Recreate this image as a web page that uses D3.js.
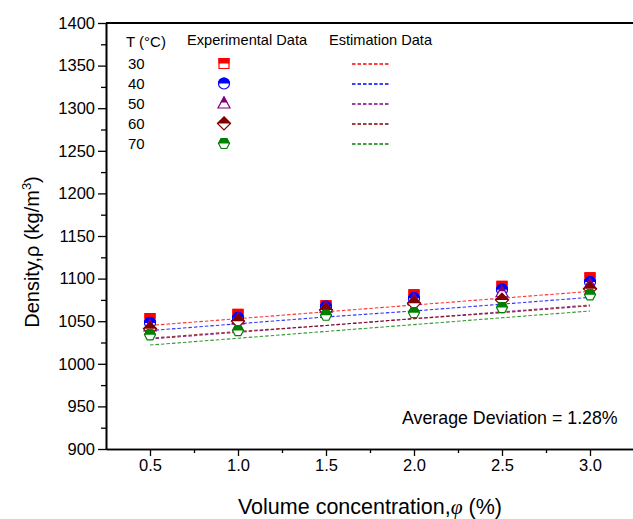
<!DOCTYPE html>
<html>
<head>
<meta charset="utf-8">
<script src="https://cdn.jsdelivr.net/npm/d3@7"></script>
<style>
  body { margin: 0; background: #fff; }
  svg { display: block; font-family: Arial, "Liberation Sans", sans-serif; }
</style>
</head>
<body>
<script>
// Data
var concentration = [0.5, 1.0, 1.5, 2.0, 2.5, 3.0];
var temperatures = [30, 40, 50, 60, 70];

var exp30 = [1053, 1058, 1068, 1081, 1091, 1101];
var exp40 = [1048, 1054, 1067, 1077, 1087, 1096];
var exp50 = [1044, 1052, 1066, 1075, 1084, 1093];
var exp60 = [1041, 1050, 1063, 1071, 1075, 1088];
var exp70 = [1034, 1039, 1057, 1060, 1066, 1081];

var est30 = [1045, 1053, 1061, 1069, 1077, 1085];
var est40 = [1039, 1047, 1055, 1062, 1070, 1078];
var est50 = [1029, 1037, 1045, 1053, 1061, 1069];
var est60 = [1030, 1038, 1045, 1053, 1060, 1068];
var est70 = [1022, 1030, 1038, 1046, 1054, 1062];

var xTicks = [0.5, 1.0, 1.5, 2.0, 2.5, 3.0];
var yTicks = [900, 950, 1000, 1050, 1100, 1150, 1200, 1250, 1300, 1350, 1400];

var expData = [exp30, exp40, exp50, exp60, exp70];
var estData = [est30, est40, est50, est60, est70];
var colors = ["#ff0000", "#0000ff", "#800080", "#800000", "#008000"];
var shapes = ["square", "circle", "triangle", "diamond", "hexagon"];

var svgWidth = 633;
var svgHeight = 519;
var margin = { top: 23, left: 106 };
var width = 528;
var height = 426;

var svg = d3.select("body").append("svg")
  .attr("width", svgWidth)
  .attr("height", svgHeight);

// clip used to fill only the upper half of each marker
svg.append("defs").append("clipPath")
  .attr("id", "topHalf")
  .attr("clipPathUnits", "objectBoundingBox")
  .append("rect")
  .attr("x", -0.1).attr("y", -0.1)
  .attr("width", 1.2).attr("height", 0.6);

var chartGroup = svg.append("g")
  .attr("transform", `translate(${margin.left}, ${margin.top})`);

var x = d3.scaleLinear().domain([0.25, 3.25]).range([0, width]);
var y = d3.scaleLinear().domain([900, 1400]).range([height, 0]);

// marker path for a given shape
function markerPath(shape) {
  var p = d3.path();
  if (shape == "square") {
    p.rect(-5, -5, 10, 10);
  } else if (shape == "circle") {
    p.arc(0, 0, 5.5, 0, 2 * Math.PI);
  } else if (shape == "triangle") {
    p.moveTo(0, -6.5); p.lineTo(6, 4.5); p.lineTo(-6, 4.5); p.closePath();
  } else if (shape == "diamond") {
    p.moveTo(0, -6.5); p.lineTo(6.5, 0); p.lineTo(0, 6.5); p.lineTo(-6.5, 0); p.closePath();
  } else {
    p.moveTo(-5.5, 0); p.lineTo(-2.8, -5); p.lineTo(2.8, -5); p.lineTo(5.5, 0);
    p.lineTo(2.8, 5); p.lineTo(-2.8, 5); p.closePath();
  }
  return p.toString();
}

function drawMarker(g, shape, color) {
  var d = markerPath(shape);
  g.append("path").attr("d", d)
    .attr("fill", "#fff").attr("stroke", color).attr("stroke-width", 1.2);
  g.append("path").attr("d", d)
    .attr("fill", color).attr("stroke", color).attr("stroke-width", 1.2)
    .attr("clip-path", "url(#topHalf)");
}

// axes
var xAxis = d3.axisBottom(x).tickValues(xTicks).tickFormat(d3.format(".1f"))
  .tickSize(7).tickSizeOuter(0);
var xMinor = d3.axisBottom(x).tickValues(d3.range(0.75, 3.25, 0.5)).tickFormat("")
  .tickSize(4).tickSizeOuter(0);
var yAxis = d3.axisLeft(y).tickValues(yTicks).tickFormat(d3.format("d"))
  .tickSize(8).tickSizeOuter(0);
var yMinor = d3.axisLeft(y).tickValues(d3.range(925, 1400, 50)).tickFormat("")
  .tickSize(5).tickSizeOuter(0);

[xMinor, xAxis].forEach(function (ax) {
  chartGroup.append("g").attr("class", "axis")
    .attr("transform", `translate(0, ${height})`).call(ax);
});
[yMinor, yAxis].forEach(function (ax) {
  chartGroup.append("g").attr("class", "axis").call(ax);
});

chartGroup.selectAll(".axis path").attr("stroke", "#000").attr("stroke-width", 1.6);
chartGroup.selectAll(".axis line").attr("stroke", "#000").attr("stroke-width", 1.3);
chartGroup.selectAll(".axis text").attr("font-size", 16.5).attr("fill", "#000")
  .attr("font-family", "Arial, 'Liberation Sans', sans-serif");

// top border
chartGroup.append("line")
  .attr("x1", 0).attr("x2", width).attr("y1", 0).attr("y2", 0)
  .attr("stroke", "#000").attr("stroke-width", 1.8);

// estimation lines
var line = d3.line().x((d, i) => x(concentration[i])).y(d => y(d));
estData.forEach(function (s, k) {
  chartGroup.append("path").datum(s)
    .attr("d", line)
    .attr("fill", "none")
    .attr("stroke", colors[k])
    .attr("stroke-opacity", 0.8)
    .attr("stroke-width", 1.1)
    .attr("stroke-dasharray", "3.5,2");
});

// experimental points
expData.forEach(function (s, k) {
  s.forEach(function (v, i) {
    var g = chartGroup.append("g")
      .attr("transform", `translate(${x(concentration[i])}, ${y(v)})`);
    drawMarker(g, shapes[k], colors[k]);
  });
});

// legend
var legend = svg.append("g");
legend.append("text").attr("x", 126).attr("y", 47).attr("font-size", 15).text("T (\u00B0C)");
legend.append("text").attr("x", 187).attr("y", 45).attr("font-size", 14.6).text("Experimental Data");
legend.append("text").attr("x", 329).attr("y", 45).attr("font-size", 14.6).text("Estimation Data");

temperatures.forEach(function (t, k) {
  var ly = 63.5 + k * 20;
  legend.append("text").attr("x", 128).attr("y", ly + 5.5).attr("font-size", 15).text(t);
  var g = legend.append("g").attr("transform", `translate(224, ${ly})`);
  drawMarker(g, shapes[k], colors[k]);
  legend.append("line")
    .attr("x1", 352).attr("x2", 389).attr("y1", ly + 0.5).attr("y2", ly + 0.5)
    .attr("stroke", colors[k])
    .attr("stroke-width", 1.4).attr("stroke-dasharray", "3.5,2");
});

// annotation
svg.append("text").attr("x", 402).attr("y", 424).attr("font-size", 17.8)
  .text("Average Deviation = 1.28%");

// axis titles
var xTitle = svg.append("text")
  .attr("x", 370).attr("y", 514).attr("text-anchor", "middle").attr("font-size", 21.5);
xTitle.append("tspan").text("Volume concentration,");
xTitle.append("tspan").attr("font-style", "italic").attr("font-family", "'Liberation Serif', serif")
  .text("\u03C6");
xTitle.append("tspan").text(" (%)");

var yTitle = svg.append("text")
  .attr("transform", "translate(39, 252) rotate(-90)")
  .attr("text-anchor", "middle").attr("font-size", 20);
yTitle.append("tspan").text("Density,\u03C1 (kg/m");
yTitle.append("tspan").attr("font-size", 13).attr("dy", -8).text("3");
yTitle.append("tspan").attr("dy", 8).text(")");
</script>
</body>
</html>
